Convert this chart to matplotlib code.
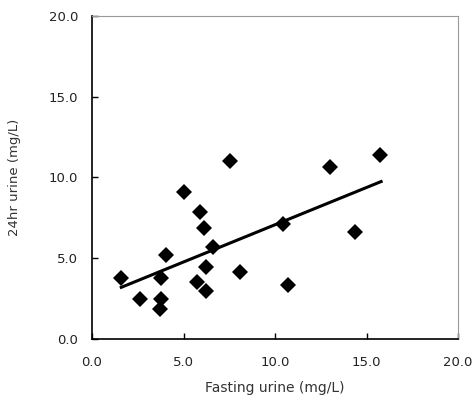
import matplotlib.pyplot as plt

# data
fasting = [1.59, 2.64, 3.79, 3.79, 3.70, 4.06, 5.00, 5.91, 6.14, 6.63,
           6.25, 5.76, 6.25, 7.55, 8.11, 10.43, 10.69, 13.03, 14.35, 15.72]
urine24 = [3.77, 2.47, 3.77, 2.50, 1.84, 5.20, 9.09, 7.85, 6.85, 5.67,
           4.45, 3.56, 3.00, 11.01, 4.12, 7.14, 3.33, 10.66, 6.60, 11.39]
trend_x = [1.6, 15.8]
trend_y = [3.2, 9.75]
ticks = [0, 5, 10, 15, 20]
tick_labels = ["0.0", "5.0", "10.0", "15.0", "20.0"]

fig = plt.figure(figsize=(4.73, 4.01), dpi=100)
ax = fig.add_axes([92/473, 62/401, (458-92)/473, (339-16)/401])

ax.plot(fasting, urine24, linestyle="none", marker="D", markersize=8.4,
        color="black", markeredgewidth=0)
ax.plot(trend_x, trend_y, color="black", linewidth=2.2)

ax.set_xlim(0, 20)
ax.set_ylim(0, 20)
ax.set_xticks(ticks)
ax.set_xticklabels(tick_labels)
ax.set_yticks(ticks)
ax.set_yticklabels(tick_labels)
ax.tick_params(direction="in", length=4, width=1, labelsize=9.5,
               colors="black", labelcolor="#222222")
ax.tick_params(axis="x", pad=12)
ax.tick_params(axis="y", pad=10)

ax.spines["left"].set_color("black")
ax.spines["bottom"].set_color("black")
ax.spines["left"].set_linewidth(1.2)
ax.spines["bottom"].set_linewidth(1.2)
ax.spines["top"].set_color("#999999")
ax.spines["right"].set_color("#999999")

ax.set_xlabel("Fasting urine (mg/L)", fontsize=10, color="#333333", labelpad=9)
ax.set_ylabel("24hr urine (mg/L)", fontsize=9.5, color="#333333", labelpad=20)

fig.savefig("out.png", dpi=100)
